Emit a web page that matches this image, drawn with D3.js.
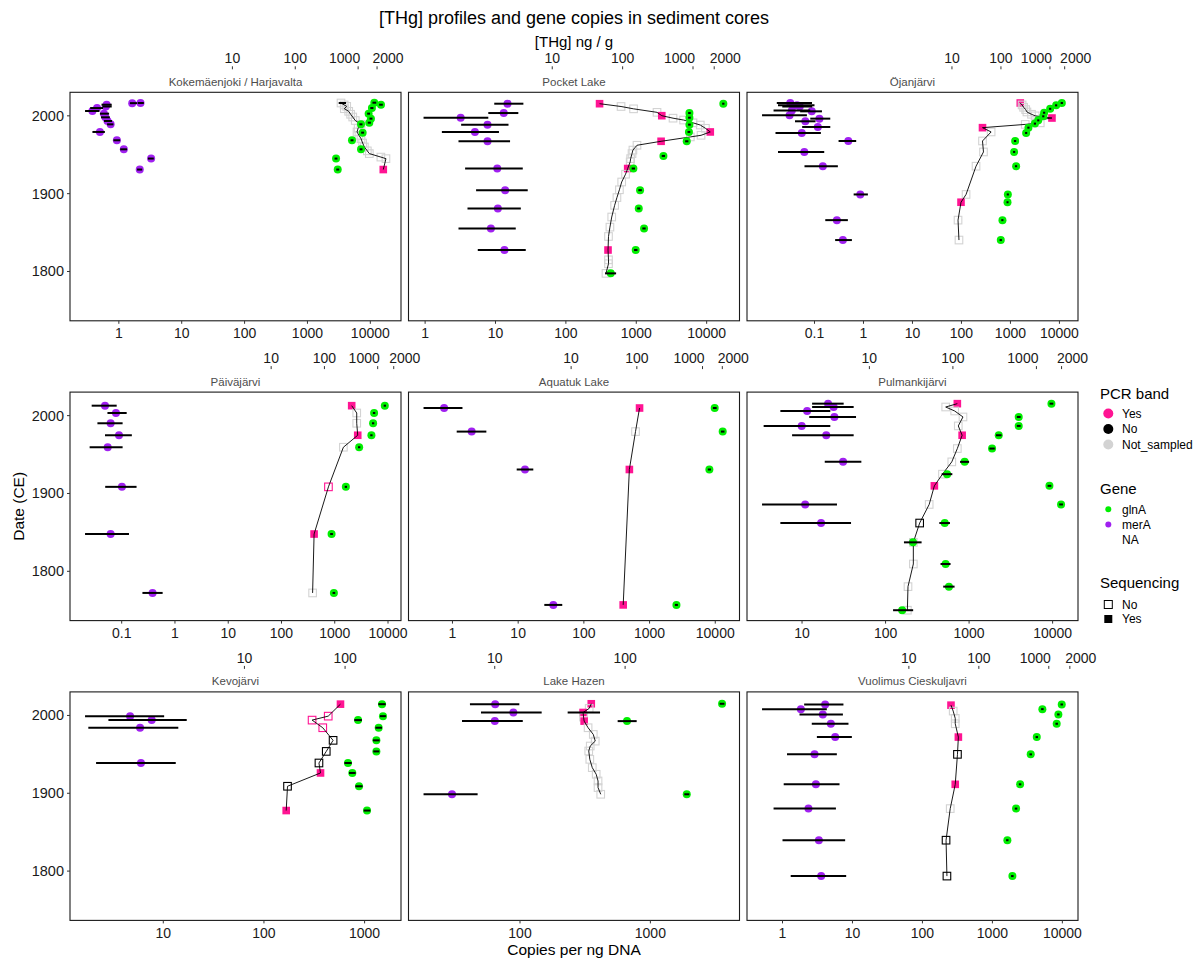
<!DOCTYPE html>
<html>
<head>
<meta charset="utf-8">
<script src="https://cdn.jsdelivr.net/npm/d3@7/dist/d3.min.js"></script>
<style>
body { margin: 0; background: #fff; }
text { font-family: "Liberation Sans", Arial, sans-serif; }
</style>
</head>
<body>
<div id="chart"></div>
<script>
var width = 1201;
var height = 962;

var coreCodes = ["KOK", "POC", "OJA", "PAI", "AQU", "PUL", "KEV", "HAZ", "VUO"];
var coreNames = ["Kokemäenjoki / Harjavalta", "Pocket Lake", "Öjanjärvi", "Päiväjärvi", "Aquatuk Lake",
  "Pulmankijärvi", "Kevojärvi", "Lake Hazen", "Vuolimus Cieskuljavri"];

// merA copies per ng DNA: [core, year, value, low, high]
var merA = [
  ["KOK", 2016.3, 1.63, 1.5, 1.95], ["KOK", 2016.5, 2.21, 2.0, 2.5], ["KOK", 2014.3, 0.64, 0.53, 0.77],
  ["KOK", 2012, 0.62, 0.55, 0.77], ["KOK", 2010, 0.45, 0.35, 0.56], ["KOK", 2006.2, 0.38, 0.29, 0.49],
  ["KOK", 2002.8, 0.58, 0.5, 0.7], ["KOK", 1998.1, 0.61, 0.52, 0.72], ["KOK", 1993.4, 0.66, 0.58, 0.78],
  ["KOK", 1989.1, 0.74, 0.65, 0.82], ["KOK", 1979.3, 0.5, 0.38, 0.6], ["KOK", 1968.6, 0.93, 0.82, 1.05],
  ["KOK", 1957, 1.2, 1.05, 1.35], ["KOK", 1945.1, 3.26, 2.9, 3.6], ["KOK", 1931, 2.15, 1.95, 2.35],
  ["POC", 2015.6, 14.8, 9.6, 24.9], ["POC", 2003.6, 13.1, 7.9, 21.1], ["POC", 1997.6, 3.2, 0.95, 7.9],
  ["POC", 1988.7, 7.7, 3.25, 15.3], ["POC", 1979.3, 5.1, 1.73, 11.2], ["POC", 1967.3, 7.7, 2.98, 16.1],
  ["POC", 1932.3, 10.6, 3.7, 24.4], ["POC", 1904.5, 13.7, 5.3, 28.7], ["POC", 1881, 10.8, 4.0, 22.9],
  ["POC", 1855.3, 8.6, 2.98, 19.4], ["POC", 1827.6, 13.4, 5.6, 26.9],
  ["OJA", 2016.5, 0.032, 0.017, 0.089], ["OJA", 2013.5, 0.044, 0.018, 0.1], ["OJA", 2012, 0.05, 0.022, 0.09],
  ["OJA", 2007, 0.0345, 0.0146, 0.082], ["OJA", 2005.8, 0.088, 0.051, 0.142], ["OJA", 2000.6, 0.031, 0.0085, 0.07],
  ["OJA", 1996.4, 0.126, 0.082, 0.21], ["OJA", 1993, 0.065, 0.04, 0.105], ["OJA", 1985.7, 0.117, 0.056, 0.21],
  ["OJA", 1978, 0.055, 0.016, 0.135], ["OJA", 1967.7, 0.49, 0.31, 0.71], ["OJA", 1953.6, 0.062, 0.018, 0.158],
  ["OJA", 1935.3, 0.148, 0.0625, 0.3], ["OJA", 1899, 0.86, 0.63, 1.23], ["OJA", 1866, 0.286, 0.166, 0.48],
  ["OJA", 1840.4, 0.38, 0.264, 0.58],
  ["PAI", 2012.8, 0.0486, 0.0273, 0.0805], ["PAI", 2003.4, 0.078, 0.054, 0.124], ["PAI", 1990.2, 0.062, 0.035, 0.104],
  ["PAI", 1974.8, 0.089, 0.0486, 0.155], ["PAI", 1959.4, 0.0546, 0.025, 0.104], ["PAI", 1908.5, 0.101, 0.049, 0.19],
  ["PAI", 1847.9, 0.062, 0.0205, 0.137], ["PAI", 1772.2, 0.38, 0.245, 0.587],
  ["AQU", 2009.8, 0.746, 0.363, 1.42], ["AQU", 1979.5, 1.96, 1.16, 3.28], ["AQU", 1930.8, 12.7, 9.5, 17],
  ["AQU", 1756.8, 34.3, 25, 46.9],
  ["PUL", 2015.4, 20.5, 13.2, 31.5], ["PUL", 2011.1, 23.9, 13.2, 41.5], ["PUL", 2006, 11.5, 5.5, 21.8],
  ["PUL", 1998.3, 24.4, 12.2, 44.3], ["PUL", 1986.8, 9.9, 3.47, 21.8], ["PUL", 1974.8, 19.5, 7.6, 41.5],
  ["PUL", 1940.6, 31, 18.7, 51.3], ["PUL", 1885.9, 10.9, 3.32, 26.2], ["PUL", 1862, 16.9, 5.5, 38.6],
  ["KEV", 1999.1, 4.68, 1.67, 10.2], ["KEV", 1994, 7.67, 2.85, 17.1], ["KEV", 1984.2, 5.88, 1.8, 14.1],
  ["KEV", 1938.9, 6.0, 2.15, 13.3],
  ["HAZ", 2014.5, 64.5, 41.3, 98.8], ["HAZ", 2003.8, 88.9, 50.2, 146.6], ["HAZ", 1992.7, 64.1, 35.9, 105],
  ["HAZ", 1898.7, 30.1, 18.2, 47.3],
  ["VUO", 2014.1, 4.07, 2.04, 7.43], ["VUO", 2008.1, 1.83, 0.51, 4.3], ["VUO", 2001.3, 3.77, 1.75, 7.3],
  ["VUO", 1989.3, 4.91, 2.62, 8.77], ["VUO", 1972.2, 5.66, 3.1, 9.8], ["VUO", 1950, 2.87, 1.16, 5.98],
  ["VUO", 1911.5, 3.0, 1.04, 6.53], ["VUO", 1880.3, 2.35, 0.745, 5.8], ["VUO", 1839.7, 3.31, 1.0, 7.86],
  ["VUO", 1793.6, 3.57, 1.31, 8.13]
];

// glnA copies per ng DNA: [core, year, value, low, high]
var glnA = [
  ["KOK", 2016.9, 11570, 10800, 12400], ["KOK", 2014.3, 14770, 13800, 15800], ["KOK", 2010, 10600, 10000, 11200],
  ["KOK", 2002.8, 9400, 8900, 9900], ["KOK", 1996.4, 10230, 9700, 10800], ["KOK", 1991.2, 9630, 9100, 10200],
  ["KOK", 1989.1, 7110, 6700, 7500], ["KOK", 1978.4, 7550, 7150, 7950], ["KOK", 1968.6, 5110, 4850, 5400],
  ["KOK", 1957, 7110, 6750, 7500], ["KOK", 1945.1, 2850, 2700, 3000], ["KOK", 1931, 3030, 2870, 3200],
  ["POC", 2015.6, 17260, 16600, 17900], ["POC", 2003.6, 5690, 5450, 5950], ["POC", 1997.6, 5690, 5450, 5950],
  ["POC", 1988.7, 5690, 5450, 5950], ["POC", 1979.3, 5600, 5350, 5850], ["POC", 1967.3, 5210, 4950, 5500],
  ["POC", 1948.5, 2430, 2300, 2560], ["POC", 1932.3, 910, 860, 960], ["POC", 1904.5, 1132, 1070, 1200],
  ["POC", 1881, 1085, 1030, 1140], ["POC", 1855.3, 1290, 1220, 1360], ["POC", 1827.6, 982, 930, 1040],
  ["POC", 1797.6, 434, 360, 517],
  ["OJA", 2016.5, 11190, 10600, 11800], ["OJA", 2013.5, 8580, 8150, 9000], ["OJA", 2009, 6470, 6150, 6800],
  ["OJA", 2004, 4870, 4630, 5120], ["OJA", 1999.4, 4680, 4450, 4920], ["OJA", 1994.2, 3700, 3520, 3890],
  ["OJA", 1990, 3160, 3000, 3320], ["OJA", 1984.8, 2330, 2210, 2450], ["OJA", 1978, 2090, 1990, 2200],
  ["OJA", 1967.7, 1247, 1180, 1310], ["OJA", 1953.6, 1190, 1130, 1250], ["OJA", 1935.3, 1306, 1240, 1370],
  ["OJA", 1899, 885, 840, 930], ["OJA", 1889, 871, 830, 915], ["OJA", 1866, 687, 650, 720],
  ["OJA", 1840.4, 635, 600, 670],
  ["PAI", 2012.8, 8710, 8300, 9150], ["PAI", 2003.4, 5480, 5200, 5760], ["PAI", 1990.2, 5250, 5000, 5520],
  ["PAI", 1974.8, 4880, 4640, 5130], ["PAI", 1959.4, 2870, 2730, 3020], ["PAI", 1908.5, 1616, 1540, 1700],
  ["PAI", 1847.9, 871, 820, 925], ["PAI", 1772.2, 964, 910, 1020],
  ["AQU", 2009.8, 9800, 9200, 10500], ["AQU", 1979.5, 12970, 12200, 13800], ["AQU", 1930.8, 8130, 7700, 8600],
  ["AQU", 1756.8, 2565, 2430, 2700],
  ["PUL", 2015.4, 9680, 9200, 10200], ["PUL", 1998.3, 3930, 3730, 4140], ["PUL", 1986.8, 3930, 3730, 4140],
  ["PUL", 1974.8, 2265, 2100, 2450], ["PUL", 1957.7, 1884, 1750, 2030], ["PUL", 1940.6, 885, 780, 1000],
  ["PUL", 1924.8, 546, 470, 630], ["PUL", 1909.8, 9160, 8700, 9650], ["PUL", 1885.9, 12620, 12000, 13300],
  ["PUL", 1862, 511, 440, 590], ["PUL", 1837.2, 213, 166, 270], ["PUL", 1809.4, 524, 455, 600],
  ["PUL", 1780.3, 574, 490, 670], ["PUL", 1750, 158, 123, 214],
  ["KEV", 2014.5, 1490, 1370, 1620], ["KEV", 1999.1, 1523, 1420, 1630], ["KEV", 1994, 861, 790, 940],
  ["KEV", 1984.2, 1380, 1280, 1490], ["KEV", 1968, 1309, 1210, 1410], ["KEV", 1953.8, 1309, 1220, 1400],
  ["KEV", 1938.9, 684, 630, 745], ["KEV", 1926.1, 755, 700, 815], ["KEV", 1909, 880, 810, 955],
  ["KEV", 1877.8, 1057, 980, 1140],
  ["HAZ", 2015, 3548, 3400, 3700], ["HAZ", 1992.7, 662, 561, 785], ["HAZ", 1898.7, 1901, 1820, 1990],
  ["VUO", 2014.1, 9800, 9400, 10200], ["VUO", 2008.1, 5180, 4970, 5400], ["VUO", 2001.3, 8770, 8420, 9130],
  ["VUO", 1989.3, 8300, 7970, 8650], ["VUO", 1972.2, 4310, 4140, 4490], ["VUO", 1950, 3530, 3390, 3680],
  ["VUO", 1911.5, 2490, 2390, 2590], ["VUO", 1880.3, 2180, 2090, 2270], ["VUO", 1839.7, 1637, 1570, 1700],
  ["VUO", 1793.6, 1932, 1850, 2010]
];

// samples with no gene assigned (only the error bar shows)
var geneNA = [
  ["KOK", 2016.5, 3600, 3140, 4110],
  ["HAZ", 2003.8, 310, 232, 411]
];

// THg ng/g: [core, year, thg, PCR band, sequencing]
var thg = [
  ["KOK", 2016.5, 534, "Not_sampled", null], ["KOK", 2014, 600, "Not_sampled", null], ["KOK", 2012.2, 658, "Not_sampled", null],
  ["KOK", 2009.2, 603, "Not_sampled", null], ["KOK", 2005.8, 708, "Not_sampled", null], ["KOK", 2002, 760, "Not_sampled", null],
  ["KOK", 1998.5, 820, "Not_sampled", null], ["KOK", 1994, 900, "Not_sampled", null], ["KOK", 1989.1, 1111, "Not_sampled", null],
  ["KOK", 1984, 1000, "Not_sampled", null], ["KOK", 1979.3, 960, "Not_sampled", null], ["KOK", 1975, 1030, "Not_sampled", null],
  ["KOK", 1970.7, 1111, "Not_sampled", null], ["KOK", 1965, 1180, "Not_sampled", null], ["KOK", 1960, 1256, "Not_sampled", null],
  ["KOK", 1955, 1400, "Not_sampled", null], ["KOK", 1951.5, 1506, "Not_sampled", null], ["KOK", 1947, 2300, "Not_sampled", null],
  ["KOK", 1945, 2770, "Not_sampled", null], ["KOK", 1931, 2512, "Yes", "Yes"],
  ["POC", 2015.6, 47, "Yes", "Yes"], ["POC", 2012, 95, "Not_sampled", null], ["POC", 2009, 143, "Not_sampled", null],
  ["POC", 2004.5, 308, "Not_sampled", null], ["POC", 2000.2, 360, "Yes", "Yes"], ["POC", 1997, 520, "Not_sampled", null],
  ["POC", 1994.6, 735, "Not_sampled", null], ["POC", 1991, 1000, "Not_sampled", null], ["POC", 1988.2, 1268, "Not_sampled", null],
  ["POC", 1984, 1500, "Not_sampled", null], ["POC", 1979.3, 1759, "Yes", "Yes"], ["POC", 1975, 1300, "Not_sampled", null],
  ["POC", 1972.9, 915, "Not_sampled", null], ["POC", 1967.3, 352, "Yes", "Yes"], ["POC", 1962.2, 160, "Not_sampled", null],
  ["POC", 1956, 140, "Not_sampled", null], ["POC", 1951.5, 136, "Not_sampled", null], ["POC", 1945, 130, "Not_sampled", null],
  ["POC", 1940.8, 128, "Not_sampled", null], ["POC", 1932.3, 118, "Yes", "Yes"], ["POC", 1925, 110, "Not_sampled", null],
  ["POC", 1915, 97, "Not_sampled", null], ["POC", 1905, 90, "Not_sampled", null], ["POC", 1895, 83, "Not_sampled", null],
  ["POC", 1885, 77, "Not_sampled", null], ["POC", 1870, 70, "Not_sampled", null], ["POC", 1857, 66, "Not_sampled", null],
  ["POC", 1845, 63, "Not_sampled", null], ["POC", 1827.6, 62, "Yes", "Yes"], ["POC", 1815, 63, "Not_sampled", null],
  ["POC", 1810, 63, "Not_sampled", null], ["POC", 1797.6, 58, "Not_sampled", null],
  ["OJA", 2016.5, 248, "Yes", "Yes"], ["OJA", 2014, 270, "Not_sampled", null], ["OJA", 2011, 290, "Not_sampled", null],
  ["OJA", 2008, 320, "Not_sampled", null], ["OJA", 2005, 339, "Not_sampled", null], ["OJA", 2002, 420, "Not_sampled", null],
  ["OJA", 2000, 501, "Not_sampled", null], ["OJA", 1997.2, 1100, "Yes", "Yes"], ["OJA", 1994.2, 500, "Not_sampled", null],
  ["OJA", 1991, 634, "Not_sampled", null], ["OJA", 1989, 313, "Not_sampled", null], ["OJA", 1984.8, 42, "Yes", "Yes"],
  ["OJA", 1979.3, 63, "Not_sampled", null], ["OJA", 1967.7, 42, "Not_sampled", null], ["OJA", 1953.6, 44, "Not_sampled", null],
  ["OJA", 1935.3, 31, "Not_sampled", null], ["OJA", 1899, 19.4, "Not_sampled", null], ["OJA", 1889, 15.3, "Yes", "Yes"],
  ["OJA", 1866, 13.3, "Not_sampled", null], ["OJA", 1840.4, 13.9, "Not_sampled", null],
  ["PAI", 2012.8, 325, "Yes", "Yes"], ["PAI", 2003.4, 404, "Not_sampled", null], ["PAI", 1990.2, 404, "Not_sampled", null],
  ["PAI", 1974.8, 422, "Yes", "Yes"], ["PAI", 1959.4, 227, "Not_sampled", null], ["PAI", 1908.5, 119, "Yes", "No"],
  ["PAI", 1847.9, 64, "Yes", "Yes"], ["PAI", 1772.2, 60, "Not_sampled", null],
  ["AQU", 2009.8, 110, "Yes", "Yes"], ["AQU", 1979.5, 95.5, "Not_sampled", null], ["AQU", 1930.8, 77, "Yes", "Yes"],
  ["AQU", 1756.8, 62, "Yes", "Yes"],
  ["PUL", 2015.4, 113, "Yes", "Yes"], ["PUL", 2011.1, 82, "Not_sampled", null], ["PUL", 2006, 105, "Not_sampled", null],
  ["PUL", 1998.3, 132, "Not_sampled", null], ["PUL", 1986.8, 116, "Not_sampled", null], ["PUL", 1974.8, 129, "Yes", "Yes"],
  ["PUL", 1957.7, 113, "Not_sampled", null], ["PUL", 1940.6, 97, "Not_sampled", null], ["PUL", 1924.8, 75, "Not_sampled", null],
  ["PUL", 1909.8, 60, "Yes", "Yes"], ["PUL", 1885.9, 52, "Not_sampled", null], ["PUL", 1862, 40, "No", "No"],
  ["PUL", 1837.2, 33.6, "Not_sampled", null], ["PUL", 1809.4, 33.6, "Not_sampled", null], ["PUL", 1780.3, 29, "Not_sampled", null],
  ["PUL", 1750, 28.5, "Not_sampled", null],
  ["KEV", 2014.5, 90, "Yes", "Yes"], ["KEV", 1999.1, 68, "Yes", "No"], ["KEV", 1994, 47, "Yes", "No"],
  ["KEV", 1984.2, 60, "Yes", "No"], ["KEV", 1968, 76, "No", "No"], ["KEV", 1953.8, 65, "No", "No"],
  ["KEV", 1938.9, 55, "No", "No"], ["KEV", 1926.1, 57, "Yes", "Yes"], ["KEV", 1909, 26.8, "No", "No"],
  ["KEV", 1877.8, 26, "Yes", "Yes"],
  ["HAZ", 2015, 55, "Yes", "Yes"], ["HAZ", 2009, 53, "Not_sampled", null], ["HAZ", 2003.8, 47.6, "Yes", "Yes"],
  ["HAZ", 1997.9, 48, "Not_sampled", null], ["HAZ", 1992.7, 48.5, "Yes", "Yes"], ["HAZ", 1984.2, 52, "Not_sampled", null],
  ["HAZ", 1975.6, 57, "Not_sampled", null], ["HAZ", 1967, 59, "Not_sampled", null], ["HAZ", 1960.7, 54, "Not_sampled", null],
  ["HAZ", 1954.3, 52.6, "Not_sampled", null], ["HAZ", 1943.6, 53.6, "Not_sampled", null], ["HAZ", 1932.9, 56, "Not_sampled", null],
  ["HAZ", 1924.4, 60, "Not_sampled", null], ["HAZ", 1915.8, 62, "Not_sampled", null], ["HAZ", 1907.3, 62, "Not_sampled", null],
  ["HAZ", 1898.7, 65, "Not_sampled", null],
  ["VUO", 2013.2, 40, "Yes", "Yes"], ["VUO", 2005.6, 43, "Not_sampled", null], ["VUO", 1996.2, 46, "Not_sampled", null],
  ["VUO", 1989.3, 46, "Not_sampled", null], ["VUO", 1972.2, 51, "Yes", "Yes"], ["VUO", 1950, 49.5, "No", "No"],
  ["VUO", 1911.5, 46, "Yes", "Yes"], ["VUO", 1880.3, 39, "Not_sampled", null], ["VUO", 1839.7, 34, "No", "No"],
  ["VUO", 1793.6, 35, "No", "No"]
];

var copyBreaks = [0.1, 1, 10, 100, 1000, 10000];
var thgBreaks = [10, 100, 1000, 2000];
var yearBreaks = [1800, 1900, 2000];
var thgFactor = 6.4; // secondary axis: copies = THg * factor

// 1000 and 2000 sit close together, their labels are pushed apart
var thgLabelShift = { 1000: -13.5, 2000: 11 };

var pcrColor = { "Yes": "#FF1493", "No": "#000000", "Not_sampled": "#D3D3D3" };
var geneColor = { "glnA": "#00EE00", "merA": "#A020F0" };

var panelW = 331, panelH = 228.5, gapX = 7.5, rowStep = 299.8;
var left0 = 70, top0 = 92.3;

var svg = d3.select("#chart").append("svg")
  .attr("width", width).attr("height", height)
  .style("background", "#fff");

// shared y scale (years), ggplot style 5% expansion
var allYears = merA.concat(glnA, geneNA, thg).map(function (d) { return d[1]; });
var yExt = d3.extent(allYears);
var yPad = (yExt[1] - yExt[0]) * 0.05;

function logDomain(vals) {
  var e = d3.extent(vals).map(Math.log10);
  var p = (e[1] - e[0]) * 0.05;
  return [Math.pow(10, e[0] - p), Math.pow(10, e[1] + p)];
}

var fmt = function (v) { return String(v); };

coreCodes.forEach(function (code, i) {
  var col = i % 3, row = Math.floor(i / 3);
  var x0 = left0 + col * (panelW + gapX);
  var y0 = top0 + row * rowStep;

  var m = merA.filter(function (d) { return d[0] === code; });
  var g = glnA.filter(function (d) { return d[0] === code; });
  var na = geneNA.filter(function (d) { return d[0] === code; });
  var t = thg.filter(function (d) { return d[0] === code; })
    .sort(function (a, b) { return b[1] - a[1]; });

  var xs = [];
  m.concat(g, na).forEach(function (d) { xs.push(d[2], d[3], d[4]); });
  t.forEach(function (d) { xs.push(d[2] * thgFactor); });

  var x = d3.scaleLog().domain(logDomain(xs)).range([x0, x0 + panelW]);
  var y = d3.scaleLinear().domain([yExt[0] - yPad, yExt[1] + yPad]).range([y0 + panelH, y0]);

  var p = svg.append("g");

  // THg squares
  var sq = 7.6;
  p.selectAll("rect.thg").data(t).enter().append("rect")
    .attr("x", function (d) { return x(d[2] * thgFactor) - sq / 2; })
    .attr("y", function (d) { return y(d[1]) - sq / 2; })
    .attr("width", sq).attr("height", sq)
    .attr("fill", function (d) { return d[4] === "Yes" ? pcrColor[d[3]] : "none"; })
    .attr("stroke", function (d) { return d[4] === "Yes" ? "none" : pcrColor[d[3]]; })
    .attr("stroke-width", 1.1);

  // THg profile line
  p.append("path")
    .attr("d", d3.line()
      .x(function (d) { return x(d[2] * thgFactor); })
      .y(function (d) { return y(d[1]); })(t))
    .attr("fill", "none").attr("stroke", "#000").attr("stroke-width", 0.9);

  // gene points
  var pts = g.map(function (d) { return { gene: "glnA", d: d }; })
    .concat(m.map(function (d) { return { gene: "merA", d: d }; }));
  p.selectAll("circle.gene").data(pts).enter().append("circle")
    .attr("cx", function (o) { return x(o.d[2]); })
    .attr("cy", function (o) { return y(o.d[1]); })
    .attr("r", 4)
    .attr("fill", function (o) { return geneColor[o.gene]; });

  // error bars
  p.selectAll("line.err").data(m.concat(g, na)).enter().append("line")
    .attr("x1", function (d) { return x(d[3]); })
    .attr("x2", function (d) { return x(d[4]); })
    .attr("y1", function (d) { return y(d[1]); })
    .attr("y2", function (d) { return y(d[1]); })
    .attr("stroke", "#000").attr("stroke-width", 2);

  // panel border
  p.append("rect")
    .attr("x", x0).attr("y", y0).attr("width", panelW).attr("height", panelH)
    .attr("fill", "none").attr("stroke", "#1a1a1a").attr("stroke-width", 1.1);

  // bottom axis
  var dom = x.domain();
  var bt = copyBreaks.filter(function (v) { return v >= dom[0] && v <= dom[1]; });
  var bAx = p.append("g");
  bAx.selectAll("line").data(bt).enter().append("line")
    .attr("x1", x).attr("x2", x)
    .attr("y1", y0 + panelH).attr("y2", y0 + panelH + 3)
    .attr("stroke", "#333").attr("stroke-width", 1);
  bAx.selectAll("text").data(bt).enter().append("text")
    .attr("x", x).attr("y", y0 + panelH + 17.5)
    .attr("text-anchor", "middle").attr("font-size", 14).attr("fill", "#1a1a1a")
    .text(fmt);

  // top (THg) axis, above the strip
  var tt = thgBreaks.filter(function (v) { return v * thgFactor >= dom[0] && v * thgFactor <= dom[1]; });
  var tAx = p.append("g");
  tAx.selectAll("line").data(tt).enter().append("line")
    .attr("x1", function (v) { return x(v * thgFactor); })
    .attr("x2", function (v) { return x(v * thgFactor); })
    .attr("y1", y0 - 23).attr("y2", y0 - 26)
    .attr("stroke", "#333").attr("stroke-width", 1);
  tAx.selectAll("text").data(tt).enter().append("text")
    .attr("x", function (v) { return x(v * thgFactor) + (thgLabelShift[v] || 0); })
    .attr("y", y0 - 29)
    .attr("text-anchor", "middle").attr("font-size", 14).attr("fill", "#1a1a1a")
    .text(fmt);

  // strip label
  p.append("text")
    .attr("x", x0 + panelW / 2).attr("y", y0 - 6.5)
    .attr("text-anchor", "middle").attr("font-size", 11.5).attr("fill", "#4d4d4d")
    .text(coreNames[i]);

  // y axis on left column only
  if (col === 0) {
    var yAx = p.append("g");
    yAx.selectAll("line").data(yearBreaks).enter().append("line")
      .attr("x1", x0 - 3).attr("x2", x0)
      .attr("y1", y).attr("y2", y)
      .attr("stroke", "#333").attr("stroke-width", 1);
    yAx.selectAll("text").data(yearBreaks).enter().append("text")
      .attr("x", x0 - 6).attr("y", function (v) { return y(v) + 5; })
      .attr("text-anchor", "end").attr("font-size", 14.5).attr("fill", "#1a1a1a")
      .text(fmt);
  }
});

// titles
var plotMid = left0 + (3 * panelW + 2 * gapX) / 2;
svg.append("text").attr("x", plotMid).attr("y", 24)
  .attr("text-anchor", "middle").attr("font-size", 18).attr("fill", "#000")
  .text("[THg] profiles and gene copies in sediment cores");
svg.append("text").attr("x", plotMid).attr("y", 47)
  .attr("text-anchor", "middle").attr("font-size", 15).attr("fill", "#000")
  .text("[THg] ng / g");
svg.append("text").attr("x", plotMid).attr("y", 955)
  .attr("text-anchor", "middle").attr("font-size", 15.5).attr("fill", "#000")
  .text("Copies per ng DNA");
svg.append("text")
  .attr("transform", "translate(24," + (top0 + (2 * rowStep + panelH) / 2) + ") rotate(-90)")
  .attr("text-anchor", "middle").attr("font-size", 15.5).attr("fill", "#000")
  .text("Date (CE)");

// legend
var lg = svg.append("g");
var lx = 1100;
function legendTitle(txt, yy) {
  lg.append("text").attr("x", lx).attr("y", yy).attr("font-size", 15).attr("fill", "#000").text(txt);
}
function legendLabel(txt, yy) {
  lg.append("text").attr("x", 1122).attr("y", yy + 4.3)
    .attr("font-size", 12).attr("fill", "#000").text(txt);
}
legendTitle("PCR band", 399);
["Yes", "No", "Not_sampled"].forEach(function (k, j) {
  var yy = 413.5 + j * 15.5;
  lg.append("circle").attr("cx", 1108.3).attr("cy", yy).attr("r", 5).attr("fill", pcrColor[k]);
  legendLabel(k, yy);
});
legendTitle("Gene", 494);
["glnA", "merA", "NA"].forEach(function (k, j) {
  var yy = 509.3 + j * 15.3;
  if (geneColor[k]) {
    lg.append("circle").attr("cx", 1108.3).attr("cy", yy).attr("r", 3).attr("fill", geneColor[k]);
  }
  legendLabel(k, yy);
});
legendTitle("Sequencing", 587.5);
["No", "Yes"].forEach(function (k, j) {
  var yy = 604.5 + j * 14.5;
  lg.append("rect").attr("x", 1104.3).attr("y", yy - 4).attr("width", 8).attr("height", 8)
    .attr("fill", k === "Yes" ? "#000" : "none")
    .attr("stroke", k === "Yes" ? "none" : "#000").attr("stroke-width", 1);
  legendLabel(k, yy);
});
</script>
</body>
</html>
